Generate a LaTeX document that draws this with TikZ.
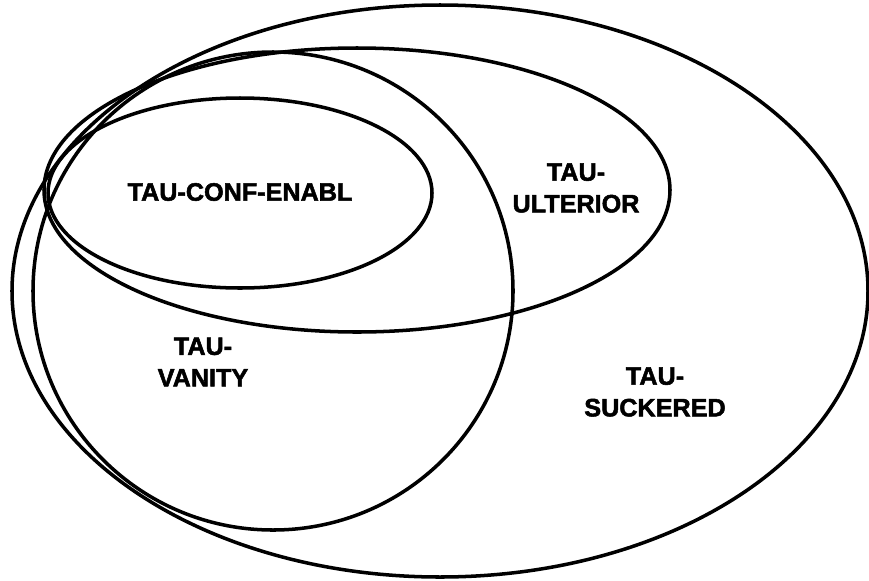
\documentclass[tikz,border=0pt]{standalone}
\usepackage{fontspec}
\setsansfont{Liberation Sans}[BoldFeatures={FakeBold=2}]
\usetikzlibrary{positioning}
\tikzset{
  setline/.style={line width=3pt},
  setlabel/.style={font=\sffamily\bfseries\fontsize{21.5}{27}\selectfont, align=center, inner sep=0pt}
}

\begin{document}
\begin{tikzpicture}[x=0.03cm, y=-0.03cm]
    \useasboundingbox (0,0) rectangle (869,580);

    % Vong ngoai: TAU-SUCKERED
    \draw[setline] (440,291) ellipse [x radius=428, y radius=286];
    \node[setlabel] (suckered) at (655,392) {TAU-\\SUCKERED};

    % Gan tron: TAU-VANITY
    \draw[setline] (273,291) ellipse [x radius=240, y radius=239];
    \node[setlabel] (vanity) at (203,362) {TAU-\\VANITY};

    % Elip dai: TAU-ULTERIOR
    \draw[setline] (357,190) ellipse [x radius=313, y radius=142];
    \node[setlabel] (ulterior) at (576,188) {TAU-\\ULTERIOR};

    % Elip trong cung: TAU-CONF-ENABL
    \draw[setline] (240,193) ellipse [x radius=192, y radius=95];
    \node[setlabel] (confenabl) at (240,192) {TAU-CONF-ENABL};
\end{tikzpicture}
\end{document}
